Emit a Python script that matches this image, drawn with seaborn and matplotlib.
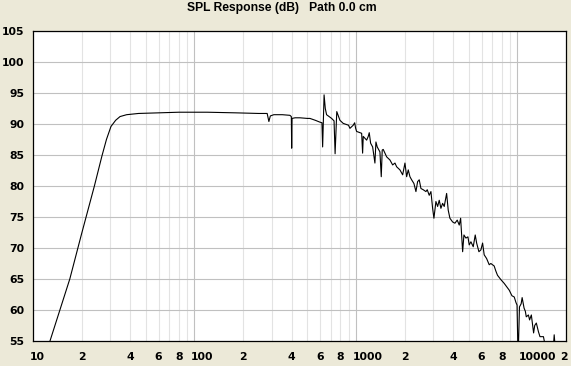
import numpy as np
import pandas as pd
import matplotlib
matplotlib.use("Agg")
import matplotlib.pyplot as plt
import seaborn as sns

# ---- data ----
freq_hz = [
    12.0, 12.74, 16.9, 20.0, 24.0, 26.7, 28.5, 30.4, 32.5, 34.6, 38, 45, 60, 80, 120, 180, 250, 282,
    289, 295, 310, 350, 390, 398, 400, 402, 420, 450, 500, 519, 560, 598, 616, 622, 635, 646, 658,
    707, 732, 743, 761, 796, 834, 900, 918, 962, 982, 996, 1010, 1085, 1100, 1110, 1137, 1165, 1192,
    1209, 1233, 1269, 1311, 1330, 1355, 1408, 1435, 1455, 1476, 1550, 1624, 1688, 1745, 1787, 1873,
    1947, 2012, 2061, 2109, 2160, 2213, 2287, 2353, 2410, 2466, 2527, 2610, 2713, 2764, 2844, 2914,
    2985, 3041, 3129, 3206, 3280, 3360, 3442, 3522, 3645, 3729, 3820, 3971, 4103, 4240, 4363, 4451,
    4580, 4665, 4800, 4939, 5031, 5155, 5327, 5481, 5592, 5777, 5943, 6088, 6228, 6447, 6690, 6850,
    7180, 7350, 7530, 7900, 8280, 8610, 8900, 9250, 9560, 9800, 9950, 10100, 10300, 10550, 10700,
    11000, 11200, 11350, 11700, 11900, 12200, 12600, 12800, 13100, 13500, 13800, 14500, 14800, 15800,
    16700, 16900, 17200, 18600, 20000,
]
spl_db = [
    52.5, 55.0, 65.0, 72.3, 80.0, 84.8, 87.5, 89.6, 90.6, 91.2, 91.5, 91.7, 91.8, 91.9, 91.9, 91.8, 91.7, 91.7,
    90.4, 91.3, 91.5, 91.5, 91.4, 91.2, 86.1, 90.9, 91.0, 91.0, 90.9, 90.9, 90.6, 90.3, 90.2, 86.3, 94.7, 92.5, 91.5,
    90.9, 90.5, 85.2, 92.0, 90.6, 90.1, 89.8, 89.3, 89.8, 90.2, 89.3, 88.8, 88.5, 85.3, 88.0, 87.7, 87.4, 88.0,
    88.6, 86.9, 86.3, 83.7, 87.1, 86.3, 85.5, 81.5, 85.8, 85.9, 84.7, 84.2, 83.4, 83.7, 83.1, 82.6,
    81.8, 83.7, 81.5, 82.6, 81.5, 81.0, 80.4, 79.1, 80.7, 81.0, 79.6, 79.4, 79.1, 79.4, 78.5, 79.1,
    76.4, 74.8, 77.5, 76.7, 77.7, 76.4, 77.2, 76.7, 78.8, 76.1, 74.8, 74.2, 74.0, 74.5, 73.7, 74.8,
    69.4, 72.1, 71.6, 71.8, 70.5, 71.0, 70.2, 72.1, 70.8, 69.4, 69.7, 70.8, 68.9, 68.3, 67.3, 67.5,
    67.1, 66.3, 65.6, 64.9, 64.3, 63.7, 63.2, 62.3, 62.1, 61.2, 60.8, 52.0, 60.5, 61.0, 62.0,
    60.3, 59.8, 58.9, 59.2, 58.4, 59.2, 56.3, 57.5, 57.9, 56.5, 55.7, 55.7, 54.5, 53.5,
    54.0, 56.0, 53.5, 52.0, 51.0,
]

y_ticks = [55, 60, 65, 70, 75, 80, 85, 90, 95, 100, 105]
x_major = [100, 1000, 10000]
x_minor = [20, 30, 40, 50, 60, 70, 80, 90,
           200, 300, 400, 500, 600, 700, 800, 900,
           2000, 3000, 4000, 5000, 6000, 7000, 8000, 9000]
x_label_pos = [10, 20, 40, 60, 80, 100, 200, 400, 600, 800, 1000,
               2000, 4000, 6000, 8000, 10000, 20000]
x_label_txt = ["10", "2", "4", "6", "8", "100", "2", "4", "6", "8", "1000",
               "2", "4", "6", "8", "10000", "2"]
title = "SPL Response (dB)   Path 0.0 cm"

df = pd.DataFrame({"f": freq_hz, "db": spl_db})

sns.set_style("white")
plt.rcParams["font.family"] = ["DejaVu Sans"]

BG = "#ECE9D8"
fig = plt.figure(figsize=(5.71, 3.66), dpi=100)
fig.patch.set_facecolor(BG)
W, H = 571, 366
ax = fig.add_axes([33 / W, (H - 341) / H, 533 / W, 310 / H])
ax.set_facecolor("white")

ax.set_xscale("log")
ax.set_xlim(10, 20000)
ax.set_ylim(55, 105)

# grid lines
for f in x_minor:
    ax.axvline(f, color="#E3E3E3", lw=0.8, zorder=1)
for f in x_major:
    ax.axvline(f, color="#C0C0C0", lw=0.8, zorder=1)
for y in y_ticks:
    ax.axhline(y, color="#C0C0C0", lw=0.8, zorder=1)

sns.lineplot(data=df, x="f", y="db", estimator=None, sort=False,
             color="black", lw=0.8, ax=ax, zorder=3)

ax.set_xlabel("")
ax.set_ylabel("")
ax.set_yticks(y_ticks)
ax.set_yticklabels([str(v) for v in y_ticks])
ax.set_xticks([], minor=False)
ax.set_xticks([], minor=True)
ax.tick_params(axis="y", length=0, pad=6.3, labelsize=7.8)
for lab in ax.get_yticklabels():
    lab.set_fontweight("bold")
    lab.set_color("black")

for s in ax.spines.values():
    s.set_color("black")
    s.set_linewidth(0.9)
    s.set_zorder(5)

# x labels
px = 0.72
offsets = {"10": -3, "100": -3.3, "1000": -3.6, "10000": 1.5}
for i, (f, s) in enumerate(zip(x_label_pos, x_label_txt)):
    if s in offsets:
        ha = "left"
        dx = offsets[s] * px
    elif i == len(x_label_pos) - 1:
        ha = "center"
        dx = -2 * px
    else:
        ha = "center"
        dx = 0
    ax.annotate(s, xy=(f, 0), xycoords=("data", "axes fraction"),
                xytext=(dx, -15.7 * px), textcoords="offset points",
                ha=ha, va="center", fontsize=7.8, fontweight="bold",
                color="black", annotation_clip=False)

fig.text(282 / W, 1 - 8.5 / H, title, ha="center", va="center",
         fontsize=8.7, fontweight="bold", family=["Liberation Sans", "DejaVu Sans"],
         color="black")

fig.savefig("out.png", dpi=100, facecolor=BG)
